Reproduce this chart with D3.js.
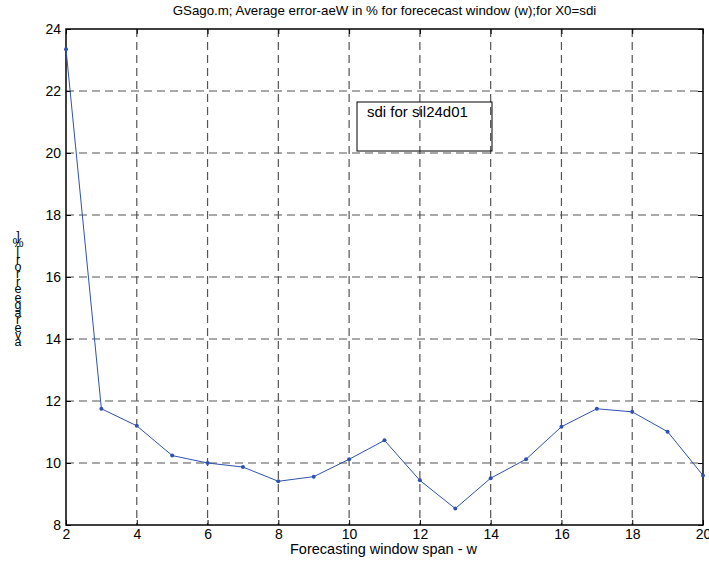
<!DOCTYPE html>
<html><head><meta charset="utf-8">
<script src="https://cdn.jsdelivr.net/npm/d3@7"></script>
<style>body{margin:0;background:#fff}svg{display:block}text{font-family:"Liberation Sans",Arial,sans-serif}</style>
</head><body>
<script>
const windowSpan = [2,3,4,5,6,7,8,9,10,11,12,13,14,15,16,17,18,19,20];
const avgError = [23.35,11.75,11.2,10.24,10.0,9.87,9.41,9.56,10.12,10.73,9.44,8.53,9.51,10.12,11.17,11.75,11.65,11.01,9.6];
const xTicks = [2,4,6,8,10,12,14,16,18,20];
const yTicks = [8,10,12,14,16,18,20,22,24];
const titleText = "GSago.m; Average error-aeW in % for forececast window (w);for X0=sdi";
const xLabel = "Forecasting window span - w";
const yLabel = "average error [%]";
const legendText = "sdi for sil24d01";

const W = 709, H = 561;
const m = {left: 66, right: 6, top: 29, bottom: 36};
const svg = d3.select("body").append("svg").attr("width", W).attr("height", H);
const x = d3.scaleLinear().domain([2,20]).range([m.left, W - m.right]);
const y = d3.scaleLinear().domain([8,24]).range([H - m.bottom, m.top]);
const x0 = x.range()[0], x1 = x.range()[1], y0 = y.range()[0], y1 = y.range()[1];

// grid
const grid = svg.append("g").attr("stroke", "#555").attr("stroke-width", 1.2).attr("stroke-dasharray", "8,5");
grid.selectAll(".gx").data(xTicks.slice(1, -1)).join("line")
  .attr("x1", d => x(d)).attr("x2", d => x(d)).attr("y1", y1).attr("y2", y0);
grid.selectAll(".gy").data(yTicks.slice(1, -1)).join("line")
  .attr("y1", d => y(d)).attr("y2", d => y(d)).attr("x1", x0).attr("x2", x1);

// axes (ticks inward)
const fs = "14px";
svg.append("g").attr("transform", `translate(0,${y0})`)
  .call(d3.axisBottom(x).tickValues(xTicks).tickSizeInner(-5).tickSizeOuter(0).tickPadding(4))
  .call(g => { g.select(".domain").remove(); g.selectAll("line").attr("stroke","#000");
    g.selectAll("text").attr("font-size", fs).attr("fill","#000"); });
svg.append("g").attr("transform", `translate(0,${y1})`)
  .call(d3.axisTop(x).tickValues(xTicks).tickSizeInner(-5).tickSizeOuter(0).tickFormat(""))
  .call(g => { g.select(".domain").remove(); g.selectAll("line").attr("stroke","#000"); });
svg.append("g").attr("transform", `translate(${x0},0)`)
  .call(d3.axisLeft(y).tickValues(yTicks).tickSizeInner(-5).tickSizeOuter(0).tickPadding(5))
  .call(g => { g.select(".domain").remove(); g.selectAll("line").attr("stroke","#000");
    g.selectAll("text").attr("font-size", fs).attr("fill","#000"); });
svg.append("g").attr("transform", `translate(${x1},0)`)
  .call(d3.axisRight(y).tickValues(yTicks).tickSizeInner(-5).tickSizeOuter(0).tickFormat(""))
  .call(g => { g.select(".domain").remove(); g.selectAll("line").attr("stroke","#000"); });

// box
svg.append("rect").attr("x", x0).attr("y", y1).attr("width", x1 - x0).attr("height", y0 - y1)
  .attr("fill", "none").attr("stroke", "#000").attr("stroke-width", 1.5);

// data
const pts = windowSpan.map((w, i) => [w, avgError[i]]);
svg.append("path").datum(pts)
  .attr("fill", "none").attr("stroke", "#2f52b0").attr("stroke-width", 1)
  .attr("d", d3.line().x(d => x(d[0])).y(d => y(d[1])));
svg.append("g").selectAll("circle").data(pts).join("circle")
  .attr("cx", d => x(d[0])).attr("cy", d => y(d[1])).attr("r", 2).attr("fill", "#2f52b0");

// title & labels
svg.append("text").attr("x", (x0 + x1) / 2).attr("y", 15).attr("text-anchor", "middle")
  .attr("font-size", "13.3px").text(titleText);
svg.append("text").attr("x", (x0 + x1) / 2 - 1).attr("y", 554).attr("text-anchor", "middle")
  .attr("font-size", "14.5px").text(xLabel);
// stacked upright characters reading bottom-to-top, as in the reference
svg.append("text")
  .attr("x", 18).attr("y", 229)
  .style("writing-mode", "vertical-rl").style("text-orientation", "upright")
  .style("letter-spacing", "-6.6px")
  .style("word-spacing", "-6px")
  .attr("font-size", "12.5px")
  .text(yLabel.split("").reverse().join(""));

// legend
svg.append("rect").attr("x", 357).attr("y", 102).attr("width", 135).attr("height", 49)
  .attr("fill", "none").attr("stroke", "#000").attr("stroke-width", 1);
svg.append("text").attr("x", 367).attr("y", 117).attr("font-size", "15px").text(legendText);
</script>
</body></html>
